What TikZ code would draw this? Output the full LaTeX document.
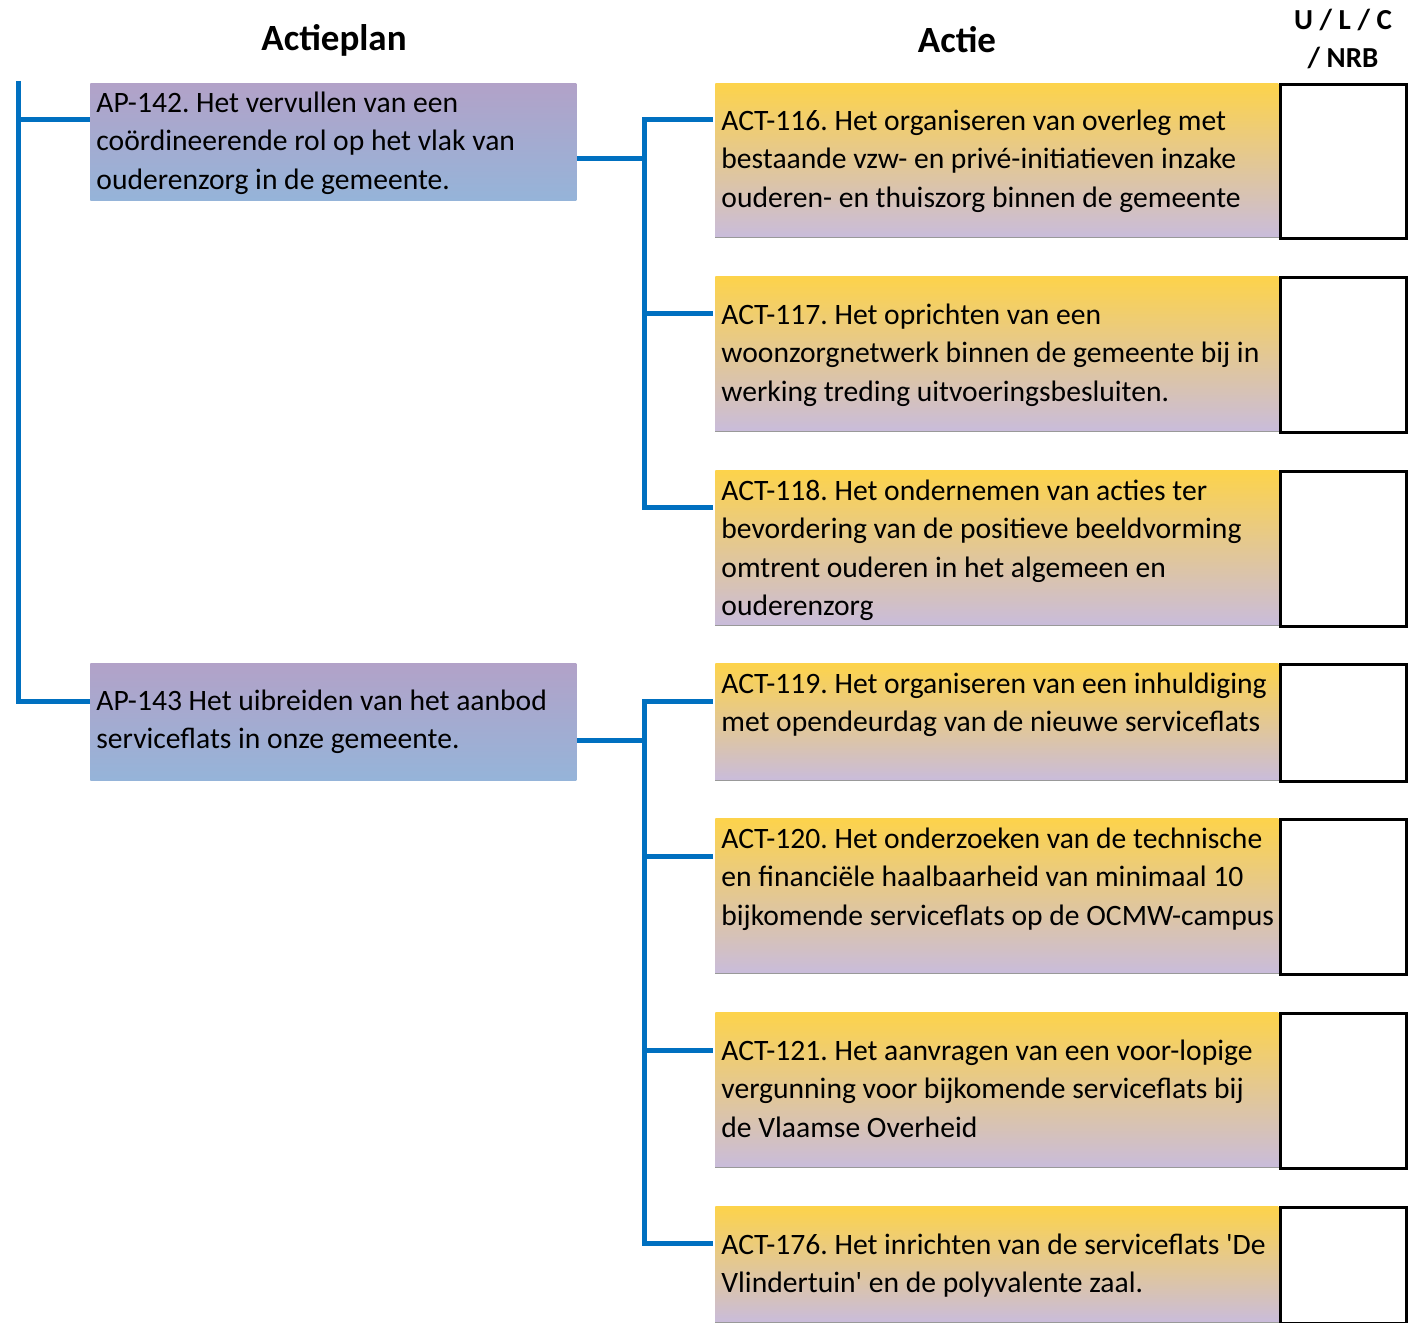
\documentclass[tikz,border=0pt]{standalone}
\usepackage{fontspec}
\setmainfont{Carlito}[Ligatures=TeXOff]
\usetikzlibrary{calc}
\definecolor{linkblue}{HTML}{0070C0}
\definecolor{apTop}{HTML}{B2A2C8}
\definecolor{apBot}{HTML}{95B4D9}
\definecolor{actTop}{HTML}{FDD34B}
\definecolor{actBot}{HTML}{C9BCDB}
\begin{document}
\frenchspacing
\begin{tikzpicture}[x=0.5pt,y=-0.5pt,
  conn/.style={draw=linkblue,line width=2.5pt},
  apbox/.style={rectangle,draw=none,inner sep=0pt,anchor=north west,top color=apTop,bottom color=apBot,minimum width=243pt,minimum height=58.5pt},
  actbox/.style={rectangle,draw=none,inner sep=0pt,anchor=north west,top color=actTop,bottom color=actBot,minimum width=281.5pt},
  chkbox/.style={rectangle,draw=black,line width=1.5pt,fill=white,inner sep=0pt,anchor=north west,minimum width=63pt},
  boxtext/.style={anchor=north west,inner sep=0pt,align=left,font=\fontsize{14.8}{19.25}\selectfont},
  title/.style={font=\fontsize{18.5}{22}\selectfont\bfseries,inner sep=0pt},
  base/.style={draw=black!40,line width=0.5pt}]
\useasboundingbox (0,0) rectangle (1418,1322);
% headers
\node[title] (hAP) at (334,40) {Actieplan};
\node[title] (hACT) at (957,40) {Actie};
\node[font=\fontsize{14.5}{19}\selectfont\bfseries,align=center,inner sep=0pt] (hULC) at (1343,39) {U / L / C\\/ NRB};
% actieplan boxes
\node[apbox] (ap142) at (90,83) {};
\node[apbox] (ap143) at (90,663) {};
\node[boxtext] (t142) at (96,85) {\strut AP-142. Het vervullen van een\\coördineerende rol op het vlak van\\ouderenzorg in de gemeente.};
\node[boxtext] (t143) at (96,683) {\strut AP-143 Het uibreiden van het aanbod\\serviceflats in onze gemeente.};
% actie boxes
\node[actbox,minimum height=77pt] (act116) at (715,83) {};
\node[actbox,minimum height=77.5pt] (act117) at (715,276) {};
\node[actbox,minimum height=77.5pt] (act118) at (715,470) {};
\node[actbox,minimum height=58.5pt] (act119) at (715,663) {};
\node[actbox,minimum height=77.5pt] (act120) at (715,818) {};
\node[actbox,minimum height=77.5pt] (act121) at (715,1012) {};
\node[actbox,minimum height=58pt] (act176) at (715,1206) {};
\foreach \n in {116,117,118,119,120,121,176}{
  \draw[base] (act\n.south west) -- (act\n.south east);
}
\node[boxtext] (t116) at (721,103) {\strut ACT-116. Het organiseren van overleg met\\bestaande vzw- en privé-initiatieven inzake\\ouderen- en thuiszorg binnen de gemeente};
\node[boxtext] (t117) at (721,297) {\strut ACT-117. Het oprichten van een\\woonzorgnetwerk binnen de gemeente bij in\\werking treding uitvoeringsbesluiten.};
\node[boxtext] (t118) at (721,473) {\strut ACT-118. Het ondernemen van acties ter\\bevordering van de positieve beeldvorming\\omtrent ouderen in het algemeen en\\ouderenzorg};
\node[boxtext] (t119) at (721,666) {\strut ACT-119. Het organiseren van een inhuldiging\\met opendeurdag van de nieuwe serviceflats};
\node[boxtext] (t120) at (721,821) {\strut ACT-120. Het onderzoeken van de technische\\en financiële haalbaarheid van minimaal 10\\bijkomende serviceflats op de OCMW-campus};
\node[boxtext] (t121) at (721,1033) {\strut ACT-121. Het aanvragen van een voor-lopige\\vergunning voor bijkomende serviceflats bij\\de Vlaamse Overheid};
\node[boxtext] (t176) at (721,1227) {\strut ACT-176. Het inrichten van de serviceflats 'De\\Vlindertuin' en de polyvalente zaal.};
% check boxes
\node[chkbox,minimum height=77pt] (c116) at (1279,83) {};
\node[chkbox,minimum height=77.5pt] (c117) at (1279,276) {};
\node[chkbox,minimum height=77.5pt] (c118) at (1279,470) {};
\node[chkbox,minimum height=58.5pt] (c119) at (1279,663) {};
\node[chkbox,minimum height=77.5pt] (c120) at (1279,818) {};
\node[chkbox,minimum height=77.5pt] (c121) at (1279,1012) {};
\node[chkbox,minimum height=58pt] (c176) at (1279,1206) {};
% connectors
\coordinate (in142) at ($(ap142.north west)+(0,37)$);
\coordinate (in143) at ($(ap143.north west)+(0,38)$);
\coordinate (spine) at (18,81);
\draw[conn] (spine) |- (in143);
\draw[conn] (spine |- in142) -- (in142);
\foreach \n/\d in {116/37,117/37,118/37,119/38,120/38,121/38,176/37}{
  \coordinate (in\n) at ($(act\n.north west)+(-2,\d)$);
}
\coordinate (k142) at (644,158);
\coordinate (k143) at (644,740);
\draw[conn] (ap142.east |- k142) -- (k142);
\draw[conn] (in116) -| (k142 |- in118) -- (in118);
\draw[conn] (k142 |- in117) -- (in117);
\draw[conn] (ap143.east |- k143) -- (k143);
\draw[conn] (in119) -| (k143 |- in176) -- (in176);
\draw[conn] (k143 |- in120) -- (in120);
\draw[conn] (k143 |- in121) -- (in121);
\end{tikzpicture}
\end{document}
